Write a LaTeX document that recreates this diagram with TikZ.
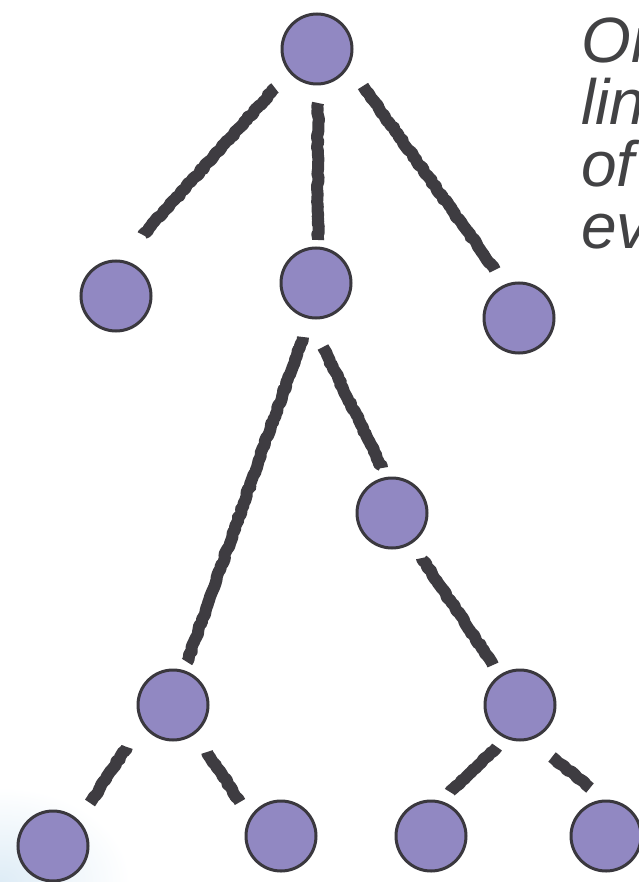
\documentclass[tikz,border=0pt]{standalone}
\usepackage{fontspec}
\setmainfont{Liberation Sans}
\usetikzlibrary{positioning, calc, decorations.pathmorphing}

\definecolor{nodefill}{RGB}{145,136,194}
\definecolor{nodeline}{RGB}{58,56,62}
\definecolor{chalk}{RGB}{62,60,65}
\definecolor{textgray}{RGB}{66,66,68}
\definecolor{haze}{RGB}{222,236,246}

\begin{document}
\pgfmathsetseed{42}
\begin{tikzpicture}[x=1pt,y=-1pt,
    tree node/.style={circle,draw=nodeline,fill=nodefill,line width=3pt,minimum size=70pt,inner sep=0pt},
    chalk edge/.style={draw=chalk,line width=12pt,line join=round,decorate,decoration={random steps,segment length=3pt,amplitude=1pt}}]

\useasboundingbox (0,0) rectangle (638,882);
\shade[inner color=haze, outer color=white] (0,882) ellipse [x radius=130pt, y radius=95pt];

% the tree
\node[tree node] (root) at (317,49)  {};
\node[tree node] (l1a)  at (116,296) {};
\node[tree node] (l1b)  at (316,283) {};
\node[tree node] (l1c)  at (519,318) {};
\node[tree node] (l2)   at (392,513) {};
\node[tree node] (l3a)  at (173,705) {};
\node[tree node] (l3b)  at (520,705) {};
\node[tree node] (l4a)  at (53,846)  {};
\node[tree node] (l4b)  at (281,836) {};
\node[tree node] (l4c)  at (431,836) {};
\node[tree node] (l4d)  at (606,836) {};

% sketchy links
\draw[chalk edge] ($(root)+(-42,39)$) -- ($(l1a)+(27,-61)$);
\draw[chalk edge] ($(root)+(1,54)$)   -- ($(l1b)+(2,-43)$);
\draw[chalk edge] ($(root)+(46,37)$)  -- ($(l1c)+(-24,-48)$);
\draw[chalk edge] ($(l1b)+(-13,54)$)  -- ($(l3a)+(14,-43)$);
\draw[chalk edge] ($(l1b)+(7,64)$)    -- ($(l2)+(-10,-45)$);
\draw[chalk edge] ($(l2)+(30,45)$)    -- ($(l3b)+(-27,-40)$);
\draw[chalk edge] ($(l3a)+(-46,42)$)  -- ($(l4a)+(37,-43)$);
\draw[chalk edge] ($(l3a)+(34,47)$)   -- ($(l4b)+(-41,-34)$);
\draw[chalk edge] ($(l3b)+(-23,42)$)  -- ($(l4c)+(19,-44)$);
\draw[chalk edge] ($(l3b)+(32,52)$)   -- ($(l4d)+(-16,-48)$);

\node[anchor=north west,inner sep=0pt,align=left,text=textgray,
      font=\itshape\fontsize{64}{62}\selectfont] (note) at (581,18) {On\\lin\\of\\ev};
\end{tikzpicture}
\end{document}
